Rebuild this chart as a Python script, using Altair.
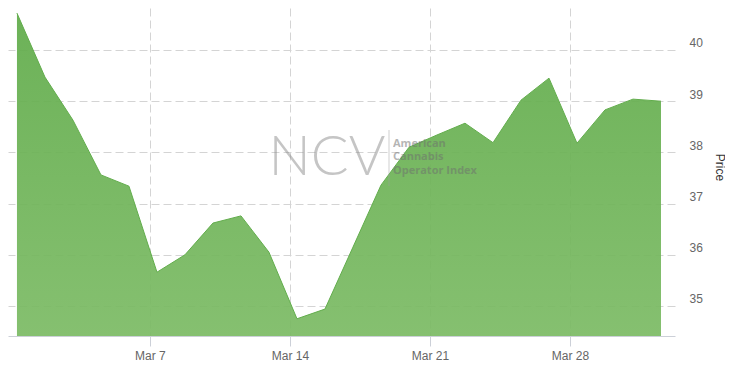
import altair as alt
import pandas as pd

# Trading days, March 1 - April 1
dates = ["Mar 1", "Mar 2", "Mar 3", "Mar 4",
         "Mar 7", "Mar 8", "Mar 9", "Mar 10", "Mar 11",
         "Mar 14", "Mar 15", "Mar 16", "Mar 17", "Mar 18",
         "Mar 21", "Mar 22", "Mar 23", "Mar 24", "Mar 25",
         "Mar 28", "Mar 29", "Mar 30", "Mar 31", "Apr 1"]
prices = [40.72, 39.47, 38.63, 37.56, 37.34,
          35.66, 36.00, 36.62, 36.76, 36.05,
          34.75, 34.94, 36.15, 37.36, 38.10,
          38.34, 38.57, 38.19, 39.02, 39.45,
          38.18, 38.83, 39.04, 39.00]
tick_labels = ["Mar 7", "Mar 14", "Mar 21", "Mar 28"]
tick_pos = [4.75, 9.75, 14.75, 19.75]
y_ticks = [35, 36, 37, 38, 39, 40]
wm_lines = ["American", "Cannabis", "Operator Index"]

df = pd.DataFrame({"i": list(range(len(prices))), "date": dates, "price": prices})

YMIN, YMAX = 34.414, 40.82
W, H = 667, 328

label_expr = " : ".join(
    f"datum.value == {p} ? '{l}'" for p, l in zip(tick_pos, tick_labels)
) + " : ''"

x_enc = alt.X(
    "i:Q",
    scale=alt.Scale(domain=[-0.32, 23.5], nice=False, zero=False),
    axis=alt.Axis(
        values=tick_pos, labelExpr=label_expr, title=None,
        grid=True, gridColor="#d4d4d4", gridDash=[8, 4],
        domainColor="#ccd0d8", tickColor="#ccd0d8", tickSize=10,
        labelColor="#666666", labelFontSize=12, labelFont="Liberation Sans",
        labelPadding=4,
    ),
)
y_enc = alt.Y(
    "price:Q",
    scale=alt.Scale(domain=[YMIN, YMAX], nice=False, zero=False),
    axis=alt.Axis(
        orient="right", values=y_ticks, title="Price",
        grid=True, gridColor="#d4d4d4", gridDash=[8, 4],
        domain=False, ticks=False,
        labelColor="#666666", labelFontSize=12, labelFont="Liberation Sans",
        labelPadding=14, labelOffset=-7, labelAlign="left",
        titleAngle=90, titleX=44, titleY=159, titleAlign="center",
        titleBaseline="middle", titleFontSize=12, titleFontWeight="normal",
        titleColor="#333333", titleFont="Liberation Sans",
    ),
)

area = alt.Chart(df).mark_area(
    color=alt.Gradient(
        gradient="linear",
        stops=[alt.GradientStop(color="#61ac4b", offset=0),
               alt.GradientStop(color="#7cbb65", offset=1)],
        x1=1, x2=1, y1=0, y2=1,
    ),
    fillOpacity=0.93,
    line={"color": "#62ad4c", "strokeWidth": 1},
).encode(x=x_enc, y=y_enc, y2=alt.datum(YMIN))

wm_big = alt.Chart(pd.DataFrame({"t": ["NCV"]})).mark_text(
    font="Lato", fontWeight=300, fontSize=56, color="#8c8c8c", opacity=0.5,
    align="center", baseline="alphabetic",
).encode(text="t:N", x=alt.value(319), y=alt.value(167))

wm_rule = alt.Chart(pd.DataFrame({"t": ["|"]})).mark_rule(
    color="#a0a0a0", opacity=0.5, strokeWidth=1
).encode(x=alt.value(381), y=alt.value(122), y2=alt.value(178))

wm_small = alt.Chart(pd.DataFrame({"t": wm_lines, "k": [0, 1, 2]})).mark_text(
    font="Open Sans", fontWeight="bold", fontSize=11, color="#6e6e6e", opacity=0.5,
    align="left", baseline="alphabetic",
).encode(
    text="t:N",
    x=alt.value(385),
    y=alt.Y("k:Q", scale=alt.Scale(domain=[0, 2], range=[138.5, 165.5]), axis=None),
)

chart = alt.layer(area, wm_big, wm_rule, wm_small).resolve_scale(
    y="independent"
).properties(
    width=W, height=H, padding=0,
).configure_view(stroke=None)

chart.save("out.html", embed_options={"renderer": "svg", "actions": False})
